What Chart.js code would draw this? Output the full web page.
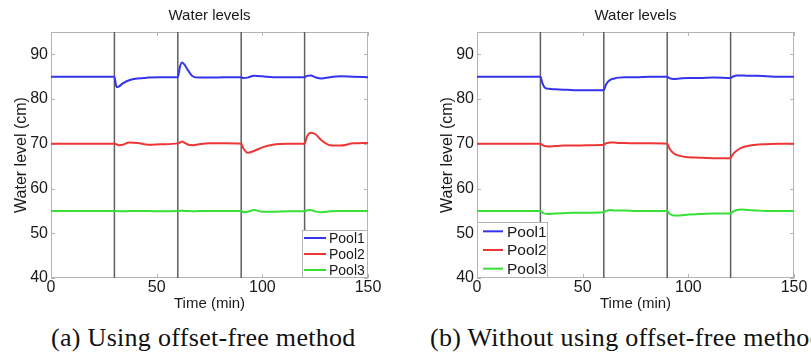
<!DOCTYPE html>
<html>
<head>
<meta charset="utf-8">
<script src="https://cdn.jsdelivr.net/npm/chart.js@4"></script>
<style>
  html, body { margin: 0; padding: 0; background: #fff; overflow: hidden; width: 811px; height: 356px; }
  canvas { position: absolute; top: 0; }
  #chartA { left: 0; }
  #chartB { left: 426px; }
  .caption { position: absolute; top: 325px; font-family: "Liberation Serif", "DejaVu Serif", serif; font-size: 26px; line-height: 26px; color: #111; white-space: nowrap; letter-spacing: 0.3px; }
  #capA { left: 51px; }
  #capB { left: 430px; }
</style>
</head>
<body>
<canvas id="chartA" width="400" height="313"></canvas>
<canvas id="chartB" width="400" height="313"></canvas>
<div class="caption" id="capA">(a) Using offset-free method</div>
<div class="caption" id="capB">(b) Without using offset-free method</div>
<script>
// sample times (min)
const times = [0, 30, 31, 32, 34, 37, 41, 46, 52, 60, 61, 62, 63, 65, 67, 70, 75, 82, 90,
               91, 93, 96, 100, 105, 112, 120, 121, 123, 125, 128, 132, 137, 143, 150];

// (a) with offset-free control
const pool1A = [85, 85, 82.7, 82.8, 83.5, 84.2, 84.6, 84.8, 84.9, 84.9, 87.2, 88.2, 87.8, 86.3, 85.1, 84.8, 84.8, 84.9, 84.9,
                84.7, 84.8, 85.2, 85.1, 84.9, 84.9, 84.9, 85.2, 85.3, 84.9, 84.6, 84.9, 85.1, 85.0, 84.9];
const pool2A = [70, 70, 69.9, 69.7, 69.8, 70.3, 70.2, 69.8, 69.9, 70.1, 70.3, 70.5, 70.3, 69.8, 69.7, 69.9, 70.1, 70.1, 70.0,
                69.0, 68.0, 68.4, 69.2, 69.8, 70.0, 70.0, 71.5, 72.5, 72.2, 70.8, 69.7, 69.6, 70.1, 70.2];
const pool3A = [55, 55, 55, 54.9, 54.9, 55, 55, 55, 54.9, 55, 55, 55.1, 55, 55, 54.9, 55, 55, 55, 55.0,
                54.7, 54.8, 55.2, 54.8, 54.8, 54.9, 54.9, 55.1, 55.2, 54.9, 54.7, 54.9, 55.0, 55.0, 55.0];

// (b) without offset-free control
const pool1B = [85, 85, 83.5, 82.6, 82.3, 82.2, 82.1, 82.0, 82.0, 82.0, 83.2, 83.9, 84.3, 84.6, 84.8, 84.9, 84.9, 85.0, 85.0,
                84.7, 84.5, 84.6, 84.7, 84.7, 84.8, 84.7, 85.0, 85.3, 85.3, 85.2, 85.2, 85.1, 85.0, 85.0];
const pool2B = [70, 70, 69.7, 69.5, 69.4, 69.5, 69.6, 69.6, 69.7, 69.8, 70.1, 70.2, 70.3, 70.3, 70.2, 70.2, 70.1, 70.1, 70.0,
                69.0, 67.9, 67.3, 67.0, 66.9, 66.8, 66.8, 67.6, 68.5, 69.1, 69.5, 69.8, 69.9, 70.0, 70.0];
const pool3B = [55, 55, 54.6, 54.4, 54.3, 54.4, 54.5, 54.6, 54.6, 54.7, 55.0, 55.1, 55.2, 55.1, 55.1, 55.1, 55.0, 55.0, 55.0,
                54.4, 54.0, 54.0, 54.2, 54.3, 54.4, 54.4, 54.8, 55.2, 55.3, 55.2, 55.1, 55.0, 55.0, 55.0];

const poolNames = ['Pool1', 'Pool2', 'Pool3'];
const poolColors = ['#3434ee', '#ee3636', '#36e036'];
const switchTimes = [30, 60, 90, 120];
const xTicks = [0, 50, 100, 150];
const yTicks = [40, 50, 60, 70, 80, 90];
const yMin = 40, yMax = 95;

const sans = '"Liberation Sans", Arial, sans-serif';

// frame, inward tick marks, title and a small legend box in a corner of the plot
const axesBox = {
  id: 'axesBox',
  beforeDatasetsDraw(chart) {
    const {ctx, chartArea: a, scales: {x, y}} = chart;
    ctx.save();
    ctx.strokeStyle = '#b4b4b4';
    ctx.lineWidth = 1;
    ctx.strokeRect(a.left + 0.5, a.top + 0.5, a.width - 1, a.height - 1);
    ctx.beginPath();
    x.ticks.forEach(t => {
      let px = Math.round(x.getPixelForValue(t.value)) + 0.5;
      ctx.moveTo(px, a.bottom); ctx.lineTo(px, a.bottom - 4);
      ctx.moveTo(px, a.top); ctx.lineTo(px, a.top + 4);
    });
    y.ticks.forEach(t => {
      let py = Math.round(y.getPixelForValue(t.value)) + 0.5;
      ctx.moveTo(a.left, py); ctx.lineTo(a.left + 4, py);
      ctx.moveTo(a.right, py); ctx.lineTo(a.right - 4, py);
    });
    ctx.stroke();
    ctx.restore();
  },
  afterDatasetsDraw(chart, args, opts) {
    const {ctx, chartArea: a} = chart;
    ctx.save();
    ctx.fillStyle = '#1a1a1a';
    ctx.font = '15px ' + sans;
    ctx.textAlign = 'center';
    ctx.textBaseline = 'alphabetic';
    ctx.fillText(opts.title, (a.left + a.right) / 2, 20);

    const lg = opts.legend;
    let bx = lg.corner === 'right' ? a.right - lg.width : a.left;
    let by = a.bottom - lg.height;
    ctx.fillStyle = '#fff';
    ctx.fillRect(bx, by, lg.width, lg.height);
    ctx.strokeStyle = '#b4b4b4';
    ctx.lineWidth = 1;
    ctx.strokeRect(bx + 0.5, by + 0.5, lg.width - 1, lg.height - 1);
    let rowH = lg.height / poolNames.length;
    ctx.font = lg.fontSize + 'px ' + sans;
    ctx.textAlign = 'left';
    ctx.textBaseline = 'middle';
    poolNames.forEach((name, i) => {
      let cy = by + rowH * (i + 0.5);
      ctx.strokeStyle = poolColors[i];
      ctx.lineWidth = 2;
      ctx.beginPath();
      ctx.moveTo(bx + lg.lineFrom, cy);
      ctx.lineTo(bx + lg.lineTo, cy);
      ctx.stroke();
      ctx.fillStyle = '#1a1a1a';
      ctx.fillText(name, bx + lg.textX, cy + 1);
    });
    ctx.restore();
  }
};

function makeChart(id, series, legend) {
  let datasets = series.map((vals, i) => ({
    label: poolNames[i],
    data: times.map((t, k) => ({x: t, y: vals[k]})),
    borderColor: poolColors[i],
    borderWidth: 2,
    pointRadius: 0,
    cubicInterpolationMode: 'monotone',
    order: 1
  }));
  switchTimes.forEach(t => {
    datasets.push({
      label: 'switch',
      data: [{x: t, y: yMin}, {x: t, y: yMax}],
      borderColor: '#5e5e5e',
      borderWidth: 1.5,
      pointRadius: 0,
      order: 5
    });
  });

  new Chart(document.getElementById(id), {
    type: 'line',
    data: {datasets: datasets},
    options: {
      responsive: false,
      animation: false,
      layout: {padding: {top: 32, right: 32, left: 0, bottom: 0}},
      plugins: {
        legend: {display: false},
        tooltip: {enabled: false},
        axesBox: {title: 'Water levels', legend: legend}
      },
      scales: {
        x: {
          type: 'linear',
          min: 0,
          max: 150,
          grid: {display: false, drawTicks: false},
          border: {display: false},
          afterBuildTicks: s => { s.ticks = xTicks.map(v => ({value: v})); },
          afterFit: s => { s.height = 35; },
          ticks: {padding: 0, color: '#1a1a1a', font: {family: sans, size: 16}},
          title: {display: true, text: 'Time (min)', color: '#1a1a1a', padding: {top: 0, bottom: 0}, font: {family: sans, size: 15}}
        },
        y: {
          min: yMin,
          max: yMax,
          grid: {display: false, drawTicks: false},
          border: {display: false},
          afterBuildTicks: s => { s.ticks = yTicks.map(v => ({value: v})); },
          afterFit: s => { s.width = 51; },
          ticks: {padding: 3, color: '#1a1a1a', font: {family: sans, size: 16}},
          title: {display: true, text: 'Water level (cm)', color: '#1a1a1a', padding: {top: 12}, font: {family: sans, size: 16}}
        }
      }
    },
    plugins: [axesBox]
  });
}

makeChart('chartA', [pool1A, pool2A, pool3A],
  {corner: 'right', width: 66, height: 48, fontSize: 14, lineFrom: 2, lineTo: 24, textX: 27});
makeChart('chartB', [pool1B, pool2B, pool3B],
  {corner: 'left', width: 71, height: 56, fontSize: 15.5, lineFrom: 6, lineTo: 26, textX: 30});
</script>
</body>
</html>
